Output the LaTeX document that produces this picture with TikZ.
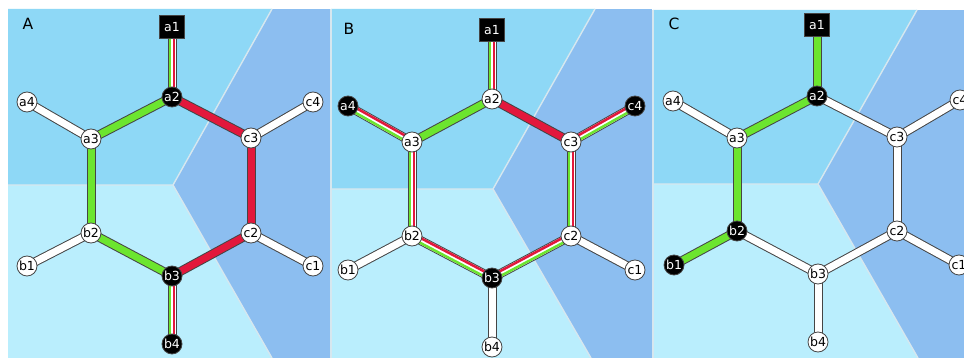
\documentclass[tikz,border=0pt]{standalone}
\usepackage{fontspec}
\setmainfont{DejaVu Sans}
\usetikzlibrary{calc}
\pgfdeclarelayer{bg}
\pgfdeclarelayer{edges}
\pgfsetlayers{bg,edges,main}
\definecolor{topblue}{HTML}{8ED8F6}
\definecolor{botblue}{HTML}{BAEEFD}
\definecolor{rightblue}{HTML}{8CBEF0}
\definecolor{sepcol}{HTML}{D6E7EF}
\definecolor{bondgreen}{HTML}{6CE52F}
\definecolor{bondred}{HTML}{E2183C}
\definecolor{outl}{HTML}{454545}
\tikzset{
  atom/.style={circle, draw=outl, line width=0.8pt, minimum size=20pt, inner sep=0pt, font=\fontsize{12.5}{12.5}\selectfont},
  wat/.style={atom, fill=white, text=black},
  bat/.style={atom, fill=black, text=white},
  sqat/.style={rectangle, draw=outl, line width=0.6pt, fill=black, text=white, minimum width=25pt, minimum height=23pt, inner sep=0pt, font=\fontsize{12.5}{12.5}\selectfont},
  plabel/.style={font=\fontsize{15.5}{15.5}\selectfont, text=black, inner sep=0pt},
  sepline/.style={draw=sepcol, line width=1.4pt},
  bondcase/.style={draw=outl, line width=9pt},
  bondcore/.style={line width=7pt},
  stripe/.style={line width=2.5pt},
}
\newcommand\bondW[2]{%
  \draw[bondcase] (#1.center) -- (#2.center);
  \draw[bondcore, white] (#1.center) -- (#2.center);}
\newcommand\bondS[3]{%
  \draw[bondcase] (#1.center) -- (#2.center);
  \draw[bondcore, #3] (#1.center) -- (#2.center);}
\newcommand\bondD[4]{%
  \draw[bondcase] (#1.center) -- (#2.center);
  \draw[bondcore, white] (#1.center) -- (#2.center);
  \draw[stripe, #3] ($(#1.center)!2.2pt!-90:(#2.center)$) -- ($(#2.center)!2.2pt!90:(#1.center)$);
  \draw[stripe, #4] ($(#1.center)!2.2pt!90:(#2.center)$) -- ($(#2.center)!2.2pt!-90:(#1.center)$);}
\begin{document}
\begin{tikzpicture}[x=1pt,y=-1pt]
\useasboundingbox (0,0) rectangle (964,358);
\begin{pgfonlayer}{bg}
  \fill[white] (0,0) rectangle (964,358);
  % panel A
  \fill[rightblue] (8,9) rectangle (330,358);
  \fill[topblue] (8,9) -- (272,9) -- (173,185) -- (8,185) -- cycle;
  \fill[botblue] (8,185) -- (173,185) -- (272,358) -- (8,358) -- cycle;
  \draw[sepline] (8,185) -- (173,185) -- (272,9);
  \draw[sepline] (173,185) -- (272,358);
  % panel B
  \fill[rightblue] (331,9) rectangle (652,358);
  \fill[topblue] (331,9) -- (595,9) -- (493,189) -- (331,189) -- cycle;
  \fill[botblue] (331,189) -- (493,189) -- (591,358) -- (331,358) -- cycle;
  \draw[sepline] (331,189) -- (493,189) -- (595,9);
  \draw[sepline] (493,189) -- (591,358);
  \draw[sepline] (331,9) -- (331,358);
  % panel C
  \fill[rightblue] (653,10) rectangle (964,358);
  \fill[topblue] (653,10) -- (917,10) -- (818,184) -- (653,184) -- cycle;
  \fill[botblue] (653,184) -- (818,184) -- (918,358) -- (653,358) -- cycle;
  \draw[sepline] (653,184) -- (818,184) -- (917,10);
  \draw[sepline] (818,184) -- (918,358);
  \draw[sepline] (653,10) -- (653,358);
\end{pgfonlayer}
% ---------- Panel A ----------
\node[plabel] (LA) at (28,24) {A};
\node[sqat] (Aa1) at (172,27) {a1};
\node[bat] (Aa2) at (172,97) {a2};
\node[wat] (Aa3) at (91,139) {a3};
\node[wat] (Aa4) at (27,102) {a4};
\node[wat] (Ac3) at (251,138) {c3};
\node[wat] (Ac4) at (313,102) {c4};
\node[wat] (Ab2) at (91,233) {b2};
\node[wat] (Ab1) at (27,266) {b1};
\node[bat] (Ab3) at (172,276) {b3};
\node[bat] (Ab4) at (172,344) {b4};
\node[wat] (Ac2) at (251,233) {c2};
\node[wat] (Ac1) at (313,266) {c1};
% ---------- Panel B ----------
\node[plabel] (LB) at (349,29) {B};
\node[sqat] (Ba1) at (492,30) {a1};
\node[wat] (Ba2) at (492,99) {a2};
\node[wat] (Ba3) at (412,142) {a3};
\node[bat] (Ba4) at (348,106) {a4};
\node[wat] (Bc3) at (571,142) {c3};
\node[bat] (Bc4) at (635,106) {c4};
\node[wat] (Bb2) at (412,236) {b2};
\node[wat] (Bb1) at (348,270) {b1};
\node[bat] (Bb3) at (492,278) {b3};
\node[wat] (Bb4) at (492,347) {b4};
\node[wat] (Bc2) at (571,236) {c2};
\node[wat] (Bc1) at (635,270) {c1};
% ---------- Panel C ----------
\node[plabel] (LC) at (674,24) {C};
\node[sqat] (Ca1) at (817,25) {a1};
\node[bat] (Ca2) at (817,96) {a2};
\node[wat] (Ca3) at (737,138) {a3};
\node[wat] (Ca4) at (673,101) {a4};
\node[wat] (Cc3) at (897,137) {c3};
\node[wat] (Cc4) at (960,100) {c4};
\node[bat] (Cb2) at (737,231) {b2};
\node[bat] (Cb1) at (674,265) {b1};
\node[wat] (Cb3) at (818,274) {b3};
\node[wat] (Cb4) at (818,342) {b4};
\node[wat] (Cc2) at (897,231) {c2};
\node[wat] (Cc1) at (959,265) {c1};
\begin{pgfonlayer}{edges}
  % A
  \bondD{Aa1}{Aa2}{bondgreen}{bondred}
  \bondS{Aa2}{Aa3}{bondgreen}
  \bondW{Aa3}{Aa4}
  \bondS{Aa3}{Ab2}{bondgreen}
  \bondW{Ab2}{Ab1}
  \bondS{Ab2}{Ab3}{bondgreen}
  \bondD{Ab3}{Ab4}{bondgreen}{bondred}
  \bondS{Aa2}{Ac3}{bondred}
  \bondW{Ac3}{Ac4}
  \bondS{Ac3}{Ac2}{bondred}
  \bondS{Ac2}{Ab3}{bondred}
  \bondW{Ac2}{Ac1}
  % B
  \bondD{Ba1}{Ba2}{bondgreen}{bondred}
  \bondS{Ba2}{Ba3}{bondgreen}
  \bondD{Ba4}{Ba3}{bondgreen}{bondred}
  \bondD{Ba3}{Bb2}{bondgreen}{bondred}
  \bondW{Bb2}{Bb1}
  \bondD{Bb2}{Bb3}{bondgreen}{bondred}
  \bondW{Bb3}{Bb4}
  \bondS{Ba2}{Bc3}{bondred}
  \bondD{Bc3}{Bc4}{bondgreen}{bondred}
  \bondD{Bc3}{Bc2}{bondgreen}{bondred}
  \bondD{Bb3}{Bc2}{bondgreen}{bondred}
  \bondW{Bc2}{Bc1}
  % C
  \bondS{Ca1}{Ca2}{bondgreen}
  \bondS{Ca2}{Ca3}{bondgreen}
  \bondW{Ca3}{Ca4}
  \bondS{Ca3}{Cb2}{bondgreen}
  \bondS{Cb2}{Cb1}{bondgreen}
  \bondW{Cb2}{Cb3}
  \bondW{Cb3}{Cb4}
  \bondW{Ca2}{Cc3}
  \bondW{Cc3}{Cc4}
  \bondW{Cc3}{Cc2}
  \bondW{Cc2}{Cb3}
  \bondW{Cc2}{Cc1}
\end{pgfonlayer}
\end{tikzpicture}
\end{document}
